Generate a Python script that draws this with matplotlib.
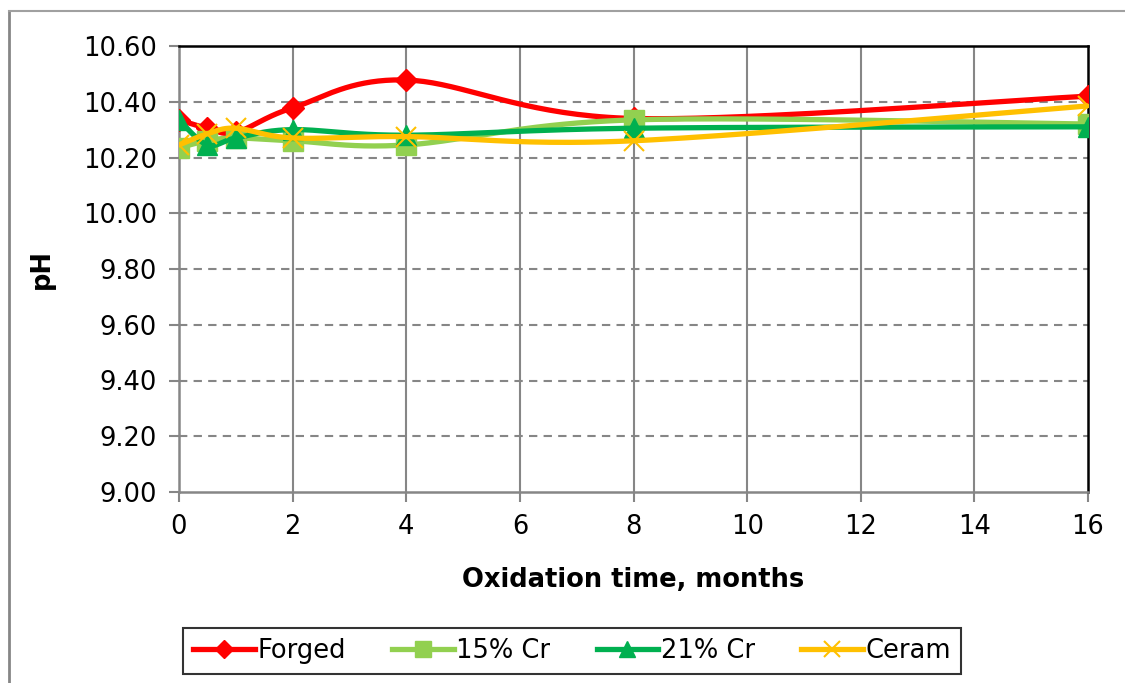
import numpy as np
import matplotlib
matplotlib.use("Agg")
import matplotlib.pyplot as plt
from matplotlib.lines import Line2D

months = [0, 0.5, 1, 2, 4, 8, 16]
forged = [10.335, 10.305, 10.29, 10.378, 10.478, 10.34, 10.42]
cr15 = [10.235, 10.26, 10.27, 10.26, 10.245, 10.335, 10.32]
cr21 = [10.335, 10.245, 10.27, 10.30, 10.28, 10.305, 10.31]
ceram = [10.245, 10.285, 10.305, 10.27, 10.275, 10.26, 10.385]
series_names = ["Forged", "15% Cr", "21% Cr", "Ceram"]
x_ticks = [0, 2, 4, 6, 8, 10, 12, 14, 16]
y_ticks = [9.00, 9.20, 9.40, 9.60, 9.80, 10.00, 10.20, 10.40, 10.60]


def smooth(x, y, n=40):
    x = np.asarray(x, float)
    y = np.asarray(y, float)
    P = np.column_stack([x, y])
    out = [P[0]]
    m = len(P)
    for i in range(m - 1):
        p0 = P[i - 1] if i > 0 else P[i]
        p1 = P[i]
        p2 = P[i + 1]
        p3 = P[i + 2] if i + 2 < m else P[i + 1]
        c1 = p1 + (p2 - p0) / 6.0
        c2 = p2 - (p3 - p1) / 6.0
        t = np.linspace(0, 1, n)[1:, None]
        b = ((1 - t) ** 3) * p1 + 3 * ((1 - t) ** 2) * t * c1 + 3 * (1 - t) * t ** 2 * c2 + t ** 3 * p2
        out.extend(b)
    out = np.array(out)
    return out[:, 0], out[:, 1]


plt.rcParams['font.family'] = ['DejaVu Sans']
fig = plt.figure(figsize=(11.25, 6.83), dpi=100)
ax = fig.add_axes([179 / 1125, 1 - 492 / 683, (1088 - 179) / 1125, (492 - 46) / 683])

styles = [
    dict(color="#FF0000", marker="D", ms=11, mew=1),
    dict(color="#92D050", marker="s", ms=14, mew=1),
    dict(color="#00B050", marker="^", ms=15, mew=1),
    dict(color="#FFC000", marker="x", ms=15, mew=1.5),
]
data = [forged, cr15, cr21, ceram]
handles = []
for k, (name, ys, st) in enumerate(zip(series_names, data, styles)):
    sx, sy = smooth(months, ys)
    ax.plot(sx, sy, color=st["color"], lw=3.8, zorder=3 + k, solid_capstyle="round")
    ax.plot(months, ys, linestyle="none", marker=st["marker"], ms=st["ms"],
            mfc=st["color"], mec=st["color"], mew=st["mew"], zorder=3 + k)
    handles.append(Line2D([0], [0], color=st["color"], lw=3.8, marker=st["marker"],
                          ms=st["ms"] * 0.8, mfc=st["color"], mec=st["color"], mew=st["mew"]))

ax.set_xlim(0, 16)
ax.set_ylim(9.0, 10.6)
ax.set_xticks(x_ticks)
ax.set_yticks(y_ticks)
ax.set_yticklabels([f"{v:.2f}" for v in y_ticks])
ax.tick_params(axis="both", labelsize=18.5, length=7, width=1.5, color="#868686", pad=9)
for xv in x_ticks[1:-1]:
    ax.axvline(xv, color="#868686", lw=1.5, zorder=1)
for yv in y_ticks[1:-1]:
    ax.axhline(yv, color="#868686", lw=1.5, ls=(0, (4, 3)), zorder=1)

ax.spines["left"].set_color("#868686")
ax.spines["bottom"].set_color("#868686")
ax.spines["left"].set_linewidth(1.8)
ax.spines["bottom"].set_linewidth(1.8)
ax.spines["top"].set_color("black")
ax.spines["right"].set_color("black")
ax.spines["top"].set_linewidth(1.8)
ax.spines["right"].set_linewidth(1.8)

ax.set_xlabel("Oxidation time, months", fontsize=18.5, fontweight="bold", labelpad=19)
ax.set_ylabel("pH", fontsize=18.5, fontweight="bold", labelpad=20)

leg = fig.legend(handles, series_names, loc="center", bbox_to_anchor=(572 / 1125, 1 - 651 / 683),
                 ncol=4, fontsize=18.5, frameon=True, fancybox=False, edgecolor="black",
                 handlelength=2.4, handletextpad=0.1, columnspacing=1.8, borderpad=0.4)
leg.get_frame().set_linewidth(1.5)

# outer chart border
fig.add_artist(Line2D([9 / 1125, 9 / 1125], [0, 1 - 11 / 683], transform=fig.transFigure,
                      color="#868686", lw=2))
fig.add_artist(Line2D([9 / 1125, 1], [1 - 11 / 683, 1 - 11 / 683], transform=fig.transFigure,
                      color="#A0A0A0", lw=1.5))

fig.savefig("out.png", dpi=100)
